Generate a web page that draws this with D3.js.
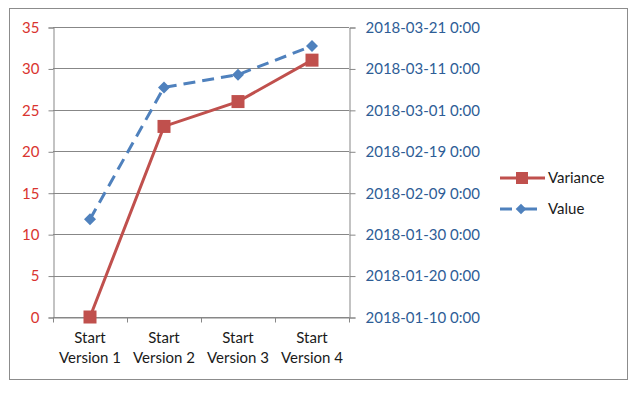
<!DOCTYPE html>
<html>
<head>
<meta charset="utf-8">
<script src="https://cdn.jsdelivr.net/npm/d3@7"></script>
<style>
  body { margin: 0; background: #fff; }
  svg { display: block; font-family: Lato, "Open Sans", sans-serif; }
</style>
</head>
<body>
<div id="chart"></div>
<script>
// data
let categories = ["Start\nVersion 1", "Start\nVersion 2", "Start\nVersion 3", "Start\nVersion 4"];
let variance = [0, 23, 26, 31];
let valueDates = ["2018-02-02T14:00", "2018-03-06T10:00", "2018-03-09T12:00", "2018-03-16T10:00"];
let leftTicks = [0, 5, 10, 15, 20, 25, 30, 35];
let rightTicks = ["2018-01-10", "2018-01-20", "2018-01-30", "2018-02-09", "2018-02-19", "2018-03-01", "2018-03-11", "2018-03-21"];
let seriesNames = ["Variance", "Value"];

let width = 640;
let height = 396;
let margin = {top: 27, bottom: 79, left: 53, right: 291};

let red = "#c0504d";
let blue = "#4f81bd";

let parse = d3.timeParse("%Y-%m-%dT%H:%M");
let parseDay = d3.timeParse("%Y-%m-%d");
let fmt = d3.timeFormat("%Y-%m-%d 0:00");

let svg = d3.select("#chart")
    .append("svg")
    .attr("width", width)
    .attr("height", height);

// outer border
svg.append("rect")
    .attr("x", 9.5).attr("y", 8.5)
    .attr("width", 618).attr("height", 371)
    .attr("fill", "none")
    .attr("stroke", "#8c8c8c")
    .attr("stroke-width", 1);

let x = d3.scaleBand()
    .domain(d3.range(categories.length))
    .range([margin.left, width - margin.right]);

let y = d3.scaleLinear()
    .domain([0, 35])
    .range([height - margin.bottom, margin.top]);

let y2 = d3.scaleTime()
    .domain([parseDay(rightTicks[0]), parseDay(rightTicks[rightTicks.length - 1])])
    .range([height - margin.bottom, margin.top]);

// gridlines
svg.append("g")
    .selectAll("line")
    .data(leftTicks)
    .join("line")
        .attr("x1", margin.left)
        .attr("x2", width - margin.right)
        .attr("y1", d => Math.round(y(d)) + 0.5)
        .attr("y2", d => Math.round(y(d)) + 0.5)
        .attr("stroke", "#878787");

function yAxis(g){
    g.attr("transform", `translate(${margin.left + 0.5}, 0.5)`)
    .call(d3.axisLeft(y).tickValues(leftTicks).tickSize(5).tickPadding(9))
    .attr("font-size", "15px")
    .attr("font-family", null);
    g.selectAll("path, line").attr("stroke", "#878787");
    g.selectAll("text").attr("fill", "#d9342f");
}

function y2Axis(g){
    g.attr("transform", `translate(${width - margin.right + 0.5}, 0.5)`)
    .call(d3.axisRight(y2).tickValues(rightTicks.map(parseDay)).tickFormat(fmt).tickSize(6).tickPadding(10))
    .attr("font-size", "15px")
    .attr("font-family", null);
    g.selectAll("path, line").attr("stroke", "#878787");
    g.selectAll("text").attr("fill", "#2e5d96");
}

function xAxis(g){
    g.attr("transform", `translate(0.5, ${height - margin.bottom + 0.5})`)
    .call(d3.axisBottom(x).tickSize(0).tickFormat(""));
    g.selectAll("path").attr("stroke", "#878787");
    // tick marks on band edges
    g.selectAll("line.edge")
        .data(d3.range(categories.length + 1))
        .join("line")
        .attr("class", "edge")
        .attr("x1", i => Math.round(margin.left + i * x.bandwidth()))
        .attr("x2", i => Math.round(margin.left + i * x.bandwidth()))
        .attr("y1", 0).attr("y2", 5)
        .attr("stroke", "#878787");
}

svg.append("g").call(yAxis);
svg.append("g").call(y2Axis);
svg.append("g").call(xAxis);

// category labels
let labels = svg.append("g")
    .attr("font-size", "15px")
    .attr("fill", "#1a1a1a")
    .attr("text-anchor", "middle");

categories.forEach((c, i) => {
    let t = labels.append("text")
        .attr("x", x(i) + x.bandwidth() / 2)
        .attr("y", height - margin.bottom + 26);
    c.split("\n").forEach((line, j) => {
        t.append("tspan")
            .attr("x", x(i) + x.bandwidth() / 2)
            .attr("dy", j === 0 ? 0 : 20)
            .text(line);
    });
});

let cx = i => x(i) + x.bandwidth() / 2;

// Value series (right axis)
let valueLine = d3.line()
    .x((d, i) => cx(i))
    .y(d => y2(parse(d)));

svg.append("path")
    .datum(valueDates)
    .attr("d", valueLine)
    .attr("fill", "none")
    .attr("stroke", blue)
    .attr("stroke-width", 3)
    .attr("stroke-dasharray", "12,7");

svg.append("g")
    .selectAll("path")
    .data(valueDates)
    .join("path")
        .attr("d", d3.symbol(d3.symbolSquare, 72))
        .attr("transform", (d, i) => `translate(${cx(i)}, ${y2(parse(d))}) rotate(45)`)
        .attr("fill", blue);

// Variance series (left axis)
let varianceLine = d3.line()
    .x((d, i) => cx(i))
    .y(d => y(d));

svg.append("path")
    .datum(variance)
    .attr("d", varianceLine)
    .attr("fill", "none")
    .attr("stroke", red)
    .attr("stroke-width", 3);

svg.append("g")
    .selectAll("rect")
    .data(variance)
    .join("rect")
        .attr("x", (d, i) => cx(i) - 6.5)
        .attr("y", d => y(d) - 6.5)
        .attr("width", 13)
        .attr("height", 13)
        .attr("fill", red);

// legend
let legend = svg.append("g").attr("font-size", "15px").attr("fill", "#1a1a1a");
let legendY = [178, 209];

legend.append("line")
    .attr("x1", 500).attr("x2", 545)
    .attr("y1", legendY[0]).attr("y2", legendY[0])
    .attr("stroke", red).attr("stroke-width", 3);
legend.append("rect")
    .attr("x", 516).attr("y", legendY[0] - 6)
    .attr("width", 12).attr("height", 12)
    .attr("fill", red);
legend.append("text")
    .attr("x", 548).attr("y", legendY[0])
    .attr("dy", "0.35em")
    .text(seriesNames[0]);

legend.append("line")
    .attr("x1", 500).attr("x2", 537)
    .attr("y1", legendY[1]).attr("y2", legendY[1])
    .attr("stroke", blue).attr("stroke-width", 3)
    .attr("stroke-dasharray", "12,10,15");
legend.append("path")
    .attr("d", d3.symbol(d3.symbolSquare, 56))
    .attr("transform", `translate(521, ${legendY[1]}) rotate(45)`)
    .attr("fill", blue);
legend.append("text")
    .attr("x", 548).attr("y", legendY[1])
    .attr("dy", "0.35em")
    .text(seriesNames[1]);
</script>
</body>
</html>
